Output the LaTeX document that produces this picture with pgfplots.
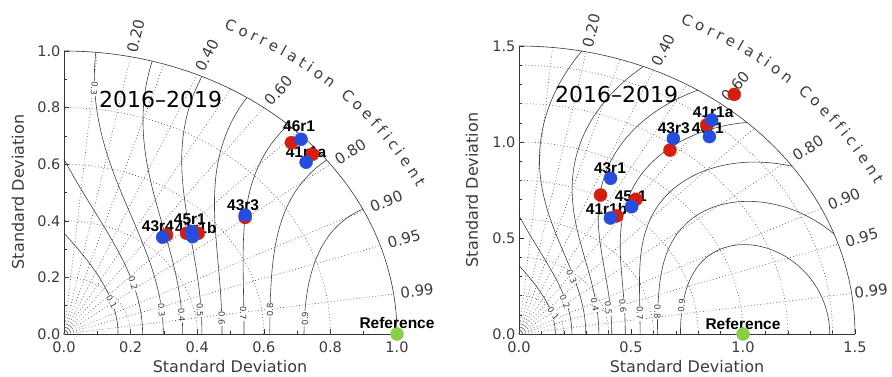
\documentclass[border=0pt]{standalone}
\usepackage{fontspec}
\setmainfont{DejaVu Sans}
\newfontfamily\labfont{Liberation Sans}
\usepackage{pgfplots}
\pgfplotsset{compat=1.18}
\usetikzlibrary{decorations.text}

\definecolor{mred}{RGB}{214,30,12}
\definecolor{mblue}{RGB}{38,78,222}
\definecolor{mgreen}{RGB}{138,206,72}
\definecolor{txt}{RGB}{60,60,60}

\newcommand{\tickfont}{\fontsize{14.5}{16}\selectfont}
\newcommand{\corrfont}{\fontsize{15}{17}\selectfont}
\newcommand{\modfont}{\labfont\bfseries\fontsize{15.5}{17}\selectfont}

\tikzset{
 clab/.style={font=\fontsize{8.5}{9}\selectfont, text=txt, fill=white, inner sep=0.6pt},
 corr/.style={font=\corrfont, text=txt},
 mlab/.style={font=\modfont, text=black, inner sep=0pt},
}
\pgfplotsset{
 taylor/.style={scale only axis, enlargelimits=false, clip=false,
   axis x line=bottom, axis y line=left,
   axis line style={-, draw=black!80, line width=0.6pt},
   tick align=inside, major tick length=5pt, minor tick length=3pt,
   tick style={black!80, line width=0.6pt},
   ticklabel style={font=\tickfont, text=txt},
   xticklabel style={yshift=-4pt},
   /pgf/number format/fixed, /pgf/number format/fixed zerofill,
   /pgf/number format/precision=1, /pgf/number format/assume math mode=true},
 dline/.style={black!60, line width=0.7pt, dash pattern=on 0.8pt off 2.4pt, forget plot},
 cline/.style={black!75, line width=0.6pt, forget plot},
 redpts/.style={only marks, mark=*, mark size=6.5pt, color=mred},
 bluepts/.style={only marks, mark=*, mark size=6.5pt, color=mblue},
 refpt/.style={only marks, mark=*, mark size=6.5pt, color=mgreen},
}

% dotted radial line: #1 = radius, #2 = correlation
\newcommand{\radial}[2]{\addplot[dline, domain=0:#1, samples=2] ({x*#2},{x*sqrt(1-#2*#2)});}
% dotted arc of given radius
\newcommand{\sarc}[1]{\addplot[dline, domain=0:90, samples=60] ({#1*cos(x)},{#1*sin(x)});}
% skill contour branch: #1 S, #2 theta start, #3 theta end, #4 sign (- inner, + outer)
\newcommand{\branch}[4]{%
 \addplot[cline, domain=0:1, samples=70, variable=\u,
   declare function={th(\u)=#3-(#3-#2)*(1-\u)*(1-\u); cc(\u)=(1+cos(th(\u)))/sqrt(#1); sg(\u)=(cc(\u)#4sqrt(max(cc(\u)*cc(\u)-4,0)))/2;}]
  ({sg(\u)*cos(th(\u))},{sg(\u)*sin(th(\u))});}

\begin{document}
\begin{tikzpicture}[x=1pt,y=1pt]
\useasboundingbox (0,0) rectangle (892,376);

% ================= LEFT PANEL =================
\begin{axis}[taylor, at={(64pt,42pt)}, anchor=south west, width=333pt, height=283pt,
  xmin=0, xmax=1, ymin=0, ymax=1,
  xtick={0,0.2,0.4,0.6,0.8,1}, ytick={0,0.2,0.4,0.6,0.8,1}, minor tick num=1]
 \radial{1}{0.1}\radial{1}{0.2}\radial{1}{0.3}\radial{1}{0.4}\radial{1}{0.5}
 \radial{1}{0.6}\radial{1}{0.7}\radial{1}{0.8}\radial{1}{0.9}\radial{1}{0.95}\radial{1}{0.99}
 \sarc{0.2}\sarc{0.4}\sarc{0.6}\sarc{0.8}
 \addplot[black!80, line width=0.6pt, domain=0:90, samples=90, forget plot] ({cos(x)},{sin(x)});
 \branch{0.1}{0}{90}{-}
 \branch{0.2}{0}{90}{-}
 \branch{0.3}{0}{84.53}{-}
 \branch{0.4}{0}{74.64}{-}
 \branch{0.5}{0}{65.53}{-}
 \branch{0.6}{0}{56.69}{-}
 \branch{0.7}{0}{47.68}{-}
 \branch{0.8}{0}{37.92}{-}
 \branch{0.9}{0}{26.19}{-}
 \node[clab, rotate=-60] at (axis cs:0.143,0.114) {0.1};
 \node[clab, rotate=-72] at (axis cs:0.208,0.179) {0.2};
 \node[clab, rotate=-88] at (axis cs:0.293,0.085) {0.3};
 \node[clab, rotate=-88] at (axis cs:0.353,0.067) {0.4};
 \node[clab, rotate=-88] at (axis cs:0.408,0.085) {0.5};
 \node[clab, rotate=-90] at (axis cs:0.474,0.055) {0.6};
 \node[clab, rotate=-90] at (axis cs:0.538,0.073) {0.7};
 \node[clab, rotate=90] at (axis cs:0.619,0.085) {0.8};
 \node[clab, rotate=90] at (axis cs:0.724,0.055) {0.9};
 \node[clab, rotate=-95] at (axis cs:0.091,0.868) {0.3};
 \node[corr, rotate=76.5] at (axis cs:0.215,1.053) {0.20};
 \node[corr, rotate=62.8] at (axis cs:0.430,0.985) {0.40};
 \node[corr, rotate=48.6] at (axis cs:0.645,0.860) {0.60};
 \node[corr, rotate=32.5] at (axis cs:0.860,0.645) {0.80};
 \node[corr, rotate=22.4] at (axis cs:0.968,0.469) {0.90};
 \node[corr, rotate=15.6] at (axis cs:1.021,0.336) {0.95};
 \node[corr, rotate=6.9]  at (axis cs:1.060,0.152) {0.99};
 \node[font=\fontsize{22}{24}\selectfont, text=black] at (axis cs:0.29,0.829) {2016–2019};
 \addplot[redpts] coordinates {(0.683,0.676) (0.746,0.635) (0.544,0.412) (0.308,0.350) (0.368,0.356) (0.403,0.356)};
 \addplot[bluepts] coordinates {(0.712,0.688) (0.727,0.607) (0.544,0.420) (0.296,0.342) (0.383,0.362) (0.386,0.344)};
 \addplot[refpt] coordinates {(1,0)};
 \node[mlab] at (axis cs:0.706,0.733) {46r1};
 \node[mlab] at (axis cs:0.727,0.644) {41r1a};
 \node[mlab] at (axis cs:0.538,0.456) {43r3};
 \node[mlab] at (axis cs:0.282,0.382) {43r4};
 \node[mlab] at (axis cs:0.378,0.406) {45r1};
 \node[mlab] at (axis cs:0.396,0.373) {41r1b};
 \node[mlab] at (axis cs:1.0,0.038) {Reference};
\end{axis}

% ================= RIGHT PANEL =================
\begin{axis}[taylor, at={(519pt,42pt)}, anchor=south west, width=336pt, height=288pt,
  xmin=0, xmax=1.5, ymin=0, ymax=1.5,
  xtick={0,0.5,1,1.5}, ytick={0,0.5,1,1.5}, minor tick num=4]
 \radial{1.5}{0.1}\radial{1.5}{0.2}\radial{1.5}{0.3}\radial{1.5}{0.4}\radial{1.5}{0.5}
 \radial{1.5}{0.6}\radial{1.5}{0.7}\radial{1.5}{0.8}\radial{1.5}{0.9}\radial{1.5}{0.95}\radial{1.5}{0.99}
 \sarc{0.2}\sarc{0.4}\sarc{0.6}\sarc{0.8}\sarc{1.0}\sarc{1.2}\sarc{1.4}
 \addplot[black!80, line width=0.6pt, domain=0:90, samples=90, forget plot] ({1.5*cos(x)},{1.5*sin(x)});
 \branch{0.1}{0}{90}{-}
 \branch{0.2}{0}{90}{-}
 \branch{0.3}{0}{84.53}{-}
 \branch{0.4}{0}{74.64}{-}
 \branch{0.5}{0}{65.53}{-}
 \branch{0.6}{0}{56.69}{-}
 \branch{0.7}{0}{47.68}{-}
 \branch{0.8}{0}{37.92}{-}
 \branch{0.9}{0}{26.19}{-}
 \branch{0.3}{79.24}{84.53}{+}
 \branch{0.4}{68.27}{74.64}{+}
 \branch{0.5}{57.85}{65.53}{+}
 \branch{0.6}{47.29}{56.69}{+}
 \branch{0.7}{35.63}{47.68}{+}
 \branch{0.8}{20.30}{37.92}{+}
 \branch{0.9}{0}{26.19}{+}
 \node[clab, rotate=-55] at (axis cs:0.153,0.108) {0.1};
 \node[clab, rotate=-65] at (axis cs:0.205,0.168) {0.2};
 \node[clab, rotate=-65] at (axis cs:0.235,0.298) {0.3};
 \node[clab, rotate=-80] at (axis cs:0.339,0.151) {0.4};
 \node[clab, rotate=-85] at (axis cs:0.399,0.134) {0.5};
 \node[clab, rotate=-85] at (axis cs:0.463,0.146) {0.6};
 \node[clab, rotate=-90] at (axis cs:0.540,0.108) {0.7};
 \node[clab, rotate=-90] at (axis cs:0.618,0.116) {0.8};
 \node[clab, rotate=85] at (axis cs:0.726,0.146) {0.9};
 \node[corr, rotate=76.6] at (axis cs:0.3225,1.580) {0.20};
 \node[corr, rotate=63.0] at (axis cs:0.645,1.478) {0.40};
 \node[corr, rotate=48.7] at (axis cs:0.9675,1.290) {0.60};
 \node[corr, rotate=32.7] at (axis cs:1.290,0.9675) {0.80};
 \node[corr, rotate=22.5] at (axis cs:1.451,0.703) {0.90};
 \node[corr, rotate=15.7] at (axis cs:1.530,0.5035) {0.95};
 \node[corr, rotate=6.95] at (axis cs:1.572,0.2245) {0.99};
 \node[font=\fontsize{22}{24}\selectfont, text=black] at (axis cs:0.436,1.245) {2016–2019};
 \addplot[redpts] coordinates {(0.961,1.248) (0.838,1.089) (0.674,0.958) (0.364,0.724) (0.522,0.701) (0.436,0.615)};
 \addplot[bluepts] coordinates {(0.860,1.115) (0.850,1.028) (0.689,1.018) (0.409,0.811) (0.503,0.663) (0.408,0.604)};
 \addplot[refpt] coordinates {(1,0)};
 \node[mlab] at (axis cs:0.867,1.153) {41r1a};
 \node[mlab] at (axis cs:0.691,1.073) {43r3};
 \node[mlab] at (axis cs:0.843,1.073) {46r1};
 \node[mlab] at (axis cs:0.406,0.863) {43r1};
 \node[mlab] at (axis cs:0.499,0.715) {45r1};
 \node[mlab] at (axis cs:0.391,0.649) {41r1b};
 \node[mlab] at (axis cs:1.0,0.05) {Reference};
\end{axis}

% axis titles
\node[font=\fontsize{16}{18}\selectfont, text=txt, inner sep=0pt] at (230,9.5) {Standard Deviation};
\node[font=\fontsize{16}{18}\selectfont, text=txt, rotate=90, inner sep=0pt] at (18,184) {Standard Deviation};
\node[font=\fontsize{16}{18}\selectfont, text=txt, inner sep=0pt] at (687,9.5) {Standard Deviation};
\node[font=\fontsize{16}{18}\selectfont, text=txt, rotate=90, inner sep=0pt] at (472,186) {Standard Deviation};

% curved "Correlation Coefficient"
\path[decorate, decoration={text along path, text={|\corrfont\color{txt}|Correlation Coefficient}, text align={fit to path}}]
  (64,42) ++(66:393pt and 334pt) arc[start angle=66, end angle=26, x radius=393pt, y radius=334pt];
\path[decorate, decoration={text along path, text={|\corrfont\color{txt}|Correlation Coefficient}, text align={fit to path}}]
  (519,42) ++(66:396.5pt and 340pt) arc[start angle=66, end angle=26, x radius=396.5pt, y radius=340pt];
\end{tikzpicture}
\end{document}
